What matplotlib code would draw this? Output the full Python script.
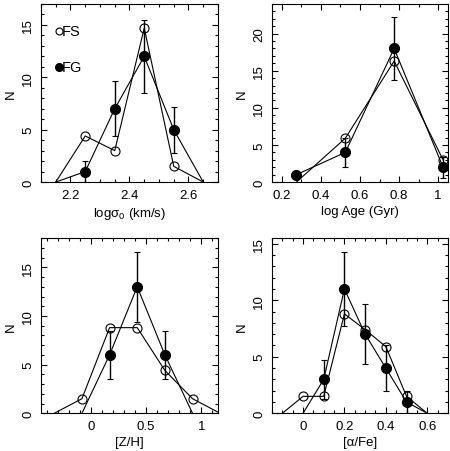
import matplotlib
matplotlib.use('Agg')
import matplotlib.pyplot as plt
from matplotlib.ticker import MultipleLocator, FuncFormatter

plt.rcParams['font.family'] = ['Liberation Sans', 'DejaVu Sans']
plt.rcParams['mathtext.fontset'] = 'custom'
plt.rcParams['mathtext.rm'] = 'Liberation Sans'
plt.rcParams['mathtext.it'] = 'Liberation Sans'
plt.rcParams['font.size'] = 9.5

# log sigma_0
sig_fs_x = [2.15, 2.25, 2.35, 2.45, 2.55, 2.65]
sig_fs = [0, 4.4, 3.0, 14.7, 1.5, 0]
sig_fg_x = [2.15, 2.25, 2.35, 2.45, 2.55, 2.65]
sig_fg = [0, 1, 7, 12, 5, 0]
sig_fg_err = [0, 1.0, 2.6, 3.5, 2.2, 0]

# log age
age_fs_x = [0.275, 0.525, 0.775, 1.025]
age_fs = [0, 5.9, 16.3, 3.0]
age_fg_x = [0.275, 0.525, 0.775, 1.025]
age_fg = [1, 4, 18, 2]
age_fg_err = [0, 2.0, 4.2, 1.4]

# [Z/H]
zh_fs_x = [-0.33, -0.08, 0.17, 0.42, 0.67, 0.92, 1.17]
zh_fs = [0, 1.5, 8.8, 8.8, 4.4, 1.5, 0]
zh_fg_x = [-0.08, 0.17, 0.42, 0.67, 0.92]
zh_fg = [0, 6, 13, 6, 0]
zh_fg_err = [0, 2.45, 3.6, 2.45, 0]

# [alpha/Fe]
af_fs_x = [-0.1, 0.0, 0.1, 0.2, 0.3, 0.4, 0.5, 0.6]
af_fs = [0, 1.5, 1.5, 8.8, 7.4, 5.9, 1.5, 0]
af_fg_x = [0.0, 0.1, 0.2, 0.3, 0.4, 0.5, 0.6]
af_fg = [0, 3, 11, 7, 4, 1, 0]
af_fg_err = [0, 1.7, 3.3, 2.65, 2.0, 1.0, 0]

panels = [
    (sig_fs_x, sig_fs, sig_fg_x, sig_fg, sig_fg_err, (2.1, 2.7), 17,
     0.2, 0.05, r'log$\sigma_0$ (km/s)'),
    (age_fs_x, age_fs, age_fg_x, age_fg, age_fg_err, (0.15, 1.05), 24,
     0.2, 0.1, 'log Age (Gyr)'),
    (zh_fs_x, zh_fs, zh_fg_x, zh_fg, zh_fg_err, (-0.45, 1.15), 18,
     0.5, 0.1, '[Z/H]'),
    (af_fs_x, af_fs, af_fg_x, af_fg, af_fg_err, (-0.15, 0.7), 15.5,
     0.2, 0.05, '[α/Fe]'),
]

rects = [
    [0.0911, 0.595, 0.3933, 0.394],
    [0.6044, 0.595, 0.391, 0.394],
    [0.0911, 0.0834, 0.3933, 0.3876],
    [0.6044, 0.0834, 0.391, 0.3876],
]

fig = plt.figure(figsize=(4.5, 4.52), dpi=100)

for i, (rect, p) in enumerate(zip(rects, panels)):
    fsx, fs, fgx, fg, fgerr, xlim, ymax, xmaj, xmin, xlabel = p
    ax = fig.add_axes(rect)
    ax.plot(fsx, fs, color='k', lw=0.8)
    ax.plot(fgx, fg, color='k', lw=0.8)
    ox = [x for x, y in zip(fsx, fs) if y > 0]
    oy = [y for y in fs if y > 0]
    ax.plot(ox, oy, 'o', mfc='none', mec='k', mew=0.8, ms=6.5)
    ex = [x for x, e in zip(fgx, fgerr) if e > 0]
    ey = [y for y, e in zip(fg, fgerr) if e > 0]
    ee = [e for e in fgerr if e > 0]
    ax.errorbar(ex, ey, yerr=ee, fmt='none', ecolor='k', elinewidth=1.0,
                capsize=2, capthick=0.8)
    fx = [x for x, y in zip(fgx, fg) if y > 0]
    fy = [y for y in fg if y > 0]
    ax.plot(fx, fy, 'o', color='k', ms=7)
    ax.set_xlim(*xlim)
    ax.set_ylim(0, ymax)
    ax.xaxis.set_major_locator(MultipleLocator(xmaj))
    ax.xaxis.set_minor_locator(MultipleLocator(xmin))
    ax.xaxis.set_major_formatter(FuncFormatter(lambda v, _: '%g' % round(v, 3)))
    ax.yaxis.set_major_locator(MultipleLocator(5))
    ax.yaxis.set_minor_locator(MultipleLocator(1))
    ax.tick_params(which='both', direction='in', top=True, right=True,
                   width=0.8, labelsize=9.5)
    ax.tick_params(which='major', length=4.5, pad=5)
    ax.tick_params(which='minor', length=2.2)
    ax.tick_params(axis='y', labelrotation=90)
    for lab in ax.get_yticklabels():
        lab.set_va('center')
    for s in ax.spines.values():
        s.set_linewidth(0.8)
    ax.set_xlabel(xlabel, fontsize=9.5, labelpad=3)
    ax.set_ylabel('N', fontsize=9.5, labelpad=4)
    if i == 0:
        ax.plot([2.16], [14.4], 'o', mfc='none', mec='k', mew=0.8, ms=5)
        ax.text(2.172, 14.4, 'FS', va='center', ha='left', fontsize=10.5)
        ax.plot([2.16], [11.0], 'o', color='k', ms=5.5)
        ax.text(2.172, 11.0, 'FG', va='center', ha='left', fontsize=10.5)

fig.savefig('out.png', dpi=100)
